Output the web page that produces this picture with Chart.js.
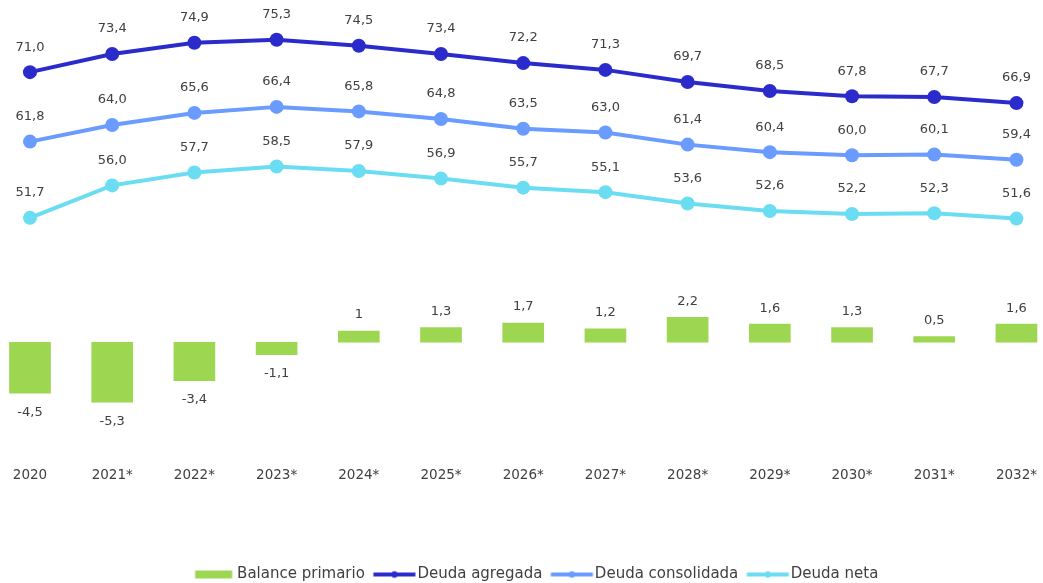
<!DOCTYPE html>
<html>
<head>
<meta charset="utf-8">
<script src="https://cdn.jsdelivr.net/npm/chart.js@4/dist/chart.umd.min.js"></script>
<style>
  html, body { margin: 0; padding: 0; background: #ffffff; }
  #wrap { width: 1043px; height: 583px; position: relative; }
</style>
</head>
<body>
<div id="wrap"><canvas id="c"></canvas></div>
<script>
const categories = ['2020', '2021*', '2022*', '2023*', '2024*', '2025*', '2026*', '2027*', '2028*', '2029*', '2030*', '2031*', '2032*'];
const balancePrimario = [-4.5, -5.3, -3.4, -1.1, 1, 1.3, 1.7, 1.2, 2.2, 1.6, 1.3, 0.5, 1.6];
const deudaAgregada = [71.0, 73.4, 74.9, 75.3, 74.5, 73.4, 72.2, 71.3, 69.7, 68.5, 67.8, 67.7, 66.9];
const deudaConsolidada = [61.8, 64.0, 65.6, 66.4, 65.8, 64.8, 63.5, 63.0, 61.4, 60.4, 60.0, 60.1, 59.4];
const deudaNeta = [51.7, 56.0, 57.7, 58.5, 57.9, 56.9, 55.7, 55.1, 53.6, 52.6, 52.2, 52.3, 51.6];

const GREEN = '#9dd651';
const DARK = '#2b2bcb';
const MID = '#6a9bff';
const LIGHT = '#6bddf2';
const TEXT = '#404040';
const FONT = '"DejaVu Sans", Lato, sans-serif';

// legend icons: canvas 60px wide, centred on boxWidth(40)/2 -> spans x-10 .. x+50
function legendIcon(kind, color) {
  const c = document.createElement('canvas');
  c.width = 60; c.height = 10;
  const g = c.getContext('2d');
  g.fillStyle = color; g.strokeStyle = color;
  if (kind === 'bar') {
    g.fillRect(15.5, 1, 37, 8);
  } else {
    g.lineWidth = 4;
    g.beginPath(); g.moveTo(13.5, 5); g.lineTo(55.5, 5); g.stroke();
    g.beginPath(); g.arc(34.5, 5, 3.2, 0, Math.PI * 2); g.fill();
  }
  return c;
}
const icons = [legendIcon('bar', GREEN), legendIcon('line', DARK), legendIcon('line', MID), legendIcon('line', LIGHT)];

const fmt1 = v => v.toFixed(1).replace('.', ',');
const fmtBar = v => String(v).replace('.', ',');

const labelPlugin = {
  id: 'valueLabels',
  afterLayout(chart) {
    if (chart.legend) { chart.legend.left += 9; chart.legend.right += 9; }
  },
  afterDatasetsDraw(chart) {
    const ctx = chart.ctx;
    ctx.save();
    ctx.font = '13px ' + FONT;
    ctx.fillStyle = TEXT;
    ctx.textAlign = 'center';
    ctx.textBaseline = 'middle';
    chart.data.datasets.forEach((ds, di) => {
      const meta = chart.getDatasetMeta(di);
      meta.data.forEach((el, i) => {
        const v = ds.data[i];
        if (ds.type === 'bar') {
          if (v >= 0) ctx.fillText(fmtBar(v), el.x, el.y - 16);
          else ctx.fillText(fmtBar(v), el.x, el.y + 19);
        } else {
          ctx.fillText(fmt1(v), el.x, el.y - 25);
        }
      });
    });
    ctx.restore();
  }
};

const lineDs = (label, data, color) => ({
  type: 'line', label, data, yAxisID: 'y1',
  borderColor: color, backgroundColor: color,
  borderWidth: 4, pointRadius: 7, pointHoverRadius: 7,
  pointBackgroundColor: color, pointBorderWidth: 0,
  tension: 0, fill: false, clip: false
});

new Chart(document.getElementById('c'), {
  data: {
    labels: categories,
    datasets: [
      { type: 'bar', label: 'Balance primario', data: balancePrimario, yAxisID: 'y',
        backgroundColor: GREEN, borderWidth: 0, barThickness: 41, clip: false },
      lineDs('Deuda agregada', deudaAgregada, DARK),
      lineDs('Deuda consolidada', deudaConsolidada, MID),
      lineDs('Deuda neta', deudaNeta, LIGHT)
    ]
  },
  options: {
    responsive: true,
    maintainAspectRatio: false,
    animation: false,
    layout: { padding: { left: 30, right: 23, top: 10, bottom: -9 } },
    scales: {
      x: {
        offset: false,
        grid: { display: false, drawTicks: false },
        border: { display: false },
        ticks: { color: TEXT, font: { size: 13.5, family: FONT }, padding: 6, maxRotation: 0, autoSkip: false },
        afterFit(axis) { axis.height = 101; }
      },
      y: { display: false, min: -10.5, max: 29.39 },
      y1: { display: false, min: 19.485, max: 79.235 }
    },
    plugins: {
      legend: {
        position: 'bottom',
        labels: {
          usePointStyle: true,
          pointStyleWidth: 40,
          boxHeight: 10,
          padding: 5,
          color: TEXT,
          font: { size: 15, family: FONT },
          generateLabels(chart) {
            return chart.data.datasets.map((ds, i) => ({
              text: ds.label, pointStyle: icons[i], fillStyle: 'transparent',
              strokeStyle: 'transparent', lineWidth: 0, fontColor: TEXT,
              hidden: false, datasetIndex: i
            }));
          }
        }
      },
      tooltip: { enabled: false }
    }
  },
  plugins: [labelPlugin]
});
</script>
</body>
</html>
